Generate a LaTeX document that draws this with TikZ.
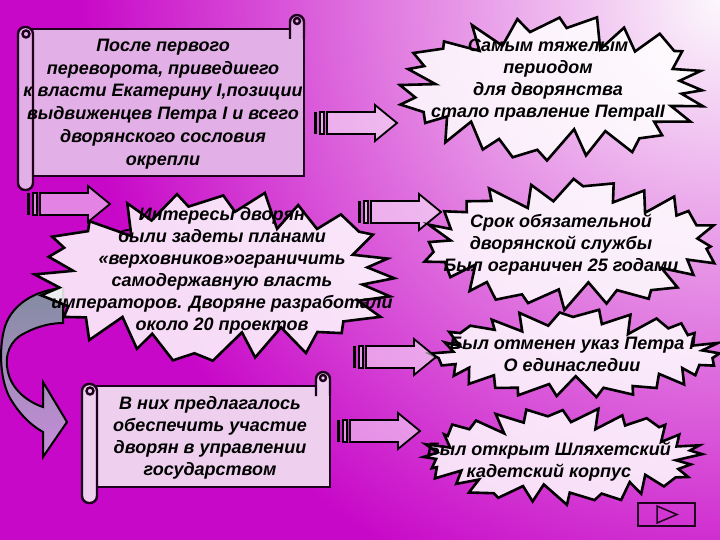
\documentclass[tikz,border=0pt]{standalone}
\usepackage{fontspec}
\setmainfont{Liberation Sans}
\definecolor{bgmag}{RGB}{200,8,200}
\definecolor{bglight}{RGB}{252,248,252}
\definecolor{inkdark}{RGB}{30,0,30}
\definecolor{scrollA}{RGB}{226,176,230}
\definecolor{scrollB}{RGB}{238,208,238}
\definecolor{curvetop}{RGB}{130,140,160}
\definecolor{curvebot}{RGB}{200,140,218}

\newcommand{\scrollbox}[7]{%
  \draw[scrollline, fill=#7] (#1+14,#3) rectangle (#4,#5);
  \draw[scrollline, fill=#7, rounded corners=7pt] (#4-14,#3+10) -- (#4-14,#2) -- (#4,#2) -- (#4,#3+10);
  \draw[scrollline, fill=#7, rounded corners=7pt] (#1,#3-2) rectangle (#1+15,#6);
  \draw[scrollline, fill=#7] (#1+8,#3+5) circle (3.5);
  \draw[scrollline, fill=#7] (#4-7,#2+6) circle (3);
}
\newcommand{\burstshape}[7]{%
  \draw[burstline] plot[samples at={0,...,#6}, variable=\k]
    ({#1+(#3*spkr(\k,#7)-#5*spkd(\k,#7))*cos(spka(\k,#6+1,#7))},
     {#2+(#4*spkr(\k,#7)-#5*spkd(\k,#7))*sin(spka(\k,#6+1,#7))}) -- cycle;
}

\tikzset{
  txt/.style={align=center, inner sep=0pt, text=black,
    font=\bfseries\itshape\fontsize{18}{22}\selectfont},
  burstline/.style={draw=black, line width=2.6pt, line join=miter,
    fill=white, fill opacity=0.85},
  scrollline/.style={draw=inkdark, line width=2.4pt},
  arrowfill/.style={draw=black, line width=1.8pt, fill=white, fill opacity=0.5},
  striparrow/.pic={
    \fill[black] (0,-11) rectangle (3,11);
    \draw[arrowfill] (6,-11) rectangle (10,11);
    \draw[arrowfill] (13,-11) -- (61,-11) -- (61,-18) -- (83,0) -- (61,18) -- (61,11) -- (13,11) -- cycle;
  }
}

\begin{document}
\begin{tikzpicture}[x=1pt,y=-1pt,
  declare function={
    spkr(\k,\s)=1-0.035*(1+sin(\k*73+\s));
    spkd(\k,\s)=mod(\k,2)*(0.65+0.35*sin(\k*131+\s));
    spka(\k,\n,\s)=(\k/\n)*360+2.5*sin(\k*151+\s);
  }]
  \fill[bgmag] (0,0) rectangle (720,540);
  \begin{scope}
    \clip (0,0) rectangle (720,540);
    \shade[inner color=bglight, outer color=bgmag] (720,0) circle (640);
  \end{scope}
  \useasboundingbox (0,0) rectangle (720,540);

  \scrollbox{18}{15}{29}{304}{176}{190}{scrollA}
  \node[txt, font=\bfseries\itshape\fontsize{18}{22.8}\selectfont] (s1) at (163,104) {После первого\\переворота, приведшего\\к власти Екатерину I,позиции\\выдвиженцев Петра I и всего\\дворянского сословия\\окрепли};

  \pic at (27,204) {striparrow};
  \draw[line width=2pt, draw=black, top color=curvetop, middle color=curvebot, bottom color=curvebot]
    (63,288) .. controls (35,290) and (10,305) .. (4,330)
    .. controls (-1,350) and (0,380) .. (10,398)
    .. controls (18,412) and (30,425) .. (43,432)
    -- (43,457) -- (67,422) -- (43,382) -- (43,407)
    .. controls (28,402) and (12,390) .. (8,372)
    .. controls (4,355) and (10,340) .. (25,333)
    .. controls (38,326) and (52,323) .. (63,323) -- cycle;

  \coordinate (e2) at (217,277);
  \burstshape{217}{277}{186}{87}{32}{47}{20}
  \node[txt] (t2) at (222,271) {Интересы дворян\\были задеты планами\\«верховников»ограничить\\самодержавную власть\\императоров. Дворяне разработали\\около 20 проектов};

  \coordinate (e1) at (553,88);
  \burstshape{553}{88}{159}{74}{30}{47}{50}
  \node[txt] (t1) at (548,80) {Самым тяжелым\\периодом\\для дворянства\\стало правление ПетраII};
  \pic at (314,123) {striparrow};

  \pic at (358,212) {striparrow};
  \coordinate (e3) at (570,244);
  \burstshape{570}{244}{151}{66}{26}{47}{110}
  \node[txt] (t3) at (561,245) {Срок обязательной\\дворянской службы\\Был ограничен 25 годами};

  \coordinate (e4) at (576,354);
  \burstshape{576}{354}{147}{45}{20}{51}{200}
  \node[txt] (t4) at (572,354) {Был отменен указ Петра I\\О единаследии};
  \pic at (353,357) {striparrow};

  \scrollbox{82}{372}{386}{330}{487}{503}{scrollB}
  \node[txt] (s2) at (210,438) {В них предлагалось\\обеспечить участие\\дворян в управлении\\государством};

  \pic at (337,431) {striparrow};
  \coordinate (e5) at (561,456);
  \burstshape{561}{456}{142}{49}{20}{55}{300}
  \node[txt] (t5) at (549,462) {Был открыт Шляхетский\\кадетский корпус};

  \draw[inkdark, line width=1.5pt] (638,503) rectangle (695,526);
  \draw[inkdark, line width=1.5pt] (657,506) -- (677,514.5) -- (657,523) -- cycle;
\end{tikzpicture}
\end{document}
